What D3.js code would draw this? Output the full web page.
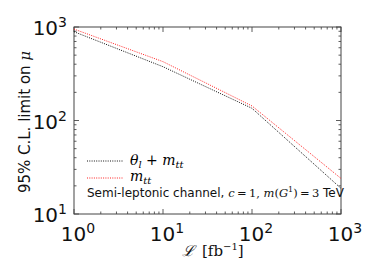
<!DOCTYPE html>
<html>
<head>
<meta charset="utf-8">
<script src="https://cdn.jsdelivr.net/npm/d3@7"></script>
<style>
  body { margin: 0; background: #fff; }
  svg text { font-family: "DejaVu Sans", sans-serif; }
  .math { font-family: "DejaVu Serif", "Liberation Serif", serif; font-style: italic; }
</style>
</head>
<body>
<div id="chart"></div>
<script>
// luminosity points (fb^-1) and limits on mu
var lumi = [1, 10, 100, 1000];
var limitCombined = [890, 376, 135, 18.8];   // theta_l + m_tt
var limitMtt = [950, 426, 143, 24];          // m_tt only
var decadeTicks = [1, 10, 100, 1000];
var yDecades = [10, 100, 1000];

var svgWidth = 374, svgHeight = 280;
var margin = {top: 27, right: 33, bottom: 66, left: 74};
var w = svgWidth - margin.left - margin.right;
var h = svgHeight - margin.top - margin.bottom;

var svg = d3.select("#chart").append("svg")
    .attr("width", svgWidth)
    .attr("height", svgHeight);

var g = svg.append("g")
    .attr("transform", "translate(" + margin.left + "," + margin.top + ")");

var x = d3.scaleLog().domain([1, 1000]).range([0, w]);
var y = d3.scaleLog().domain([10, 1000]).range([h, 0]);

// minor ticks
function minors(lo, hi) {
    var out = [];
    for (var d = lo; d < hi; d *= 10)
        for (var k = 2; k < 10; k++) out.push(d * k);
    return out;
}
var xMinor = minors(1, 1000), yMinor = minors(10, 1000);

var tickCol = "#333";
// x ticks, bottom and top, pointing inward
[[h, -1], [0, 1]].forEach(function(p) {
    g.selectAll(null).data(decadeTicks).enter().append("line")
        .attr("x1", d => x(d)).attr("x2", d => x(d))
        .attr("y1", p[0]).attr("y2", p[0] + p[1] * 5)
        .attr("stroke", tickCol).attr("stroke-width", 0.8);
    g.selectAll(null).data(xMinor).enter().append("line")
        .attr("x1", d => x(d)).attr("x2", d => x(d))
        .attr("y1", p[0]).attr("y2", p[0] + p[1] * 2.5)
        .attr("stroke", tickCol).attr("stroke-width", 0.8);
});
// y ticks, left and right
[[0, 1], [w, -1]].forEach(function(p) {
    g.selectAll(null).data(yDecades).enter().append("line")
        .attr("y1", d => y(d)).attr("y2", d => y(d))
        .attr("x1", p[0]).attr("x2", p[0] + p[1] * 5)
        .attr("stroke", tickCol).attr("stroke-width", 0.8);
    g.selectAll(null).data(yMinor).enter().append("line")
        .attr("y1", d => y(d)).attr("y2", d => y(d))
        .attr("x1", p[0]).attr("x2", p[0] + p[1] * 2.5)
        .attr("stroke", tickCol).attr("stroke-width", 0.8);
});

// frame
g.append("rect").attr("width", w).attr("height", h)
    .attr("fill", "none").attr("stroke", "#444").attr("stroke-width", 1);

// tick labels
function pow10(sel, d) {
    var e = Math.round(Math.log10(d));
    sel.append("tspan").text("10");
    sel.append("tspan").attr("dy", -8).attr("font-size", 14).text(e);
}
g.selectAll(null).data(decadeTicks).enter().append("text")
    .attr("x", d => x(d) + 4).attr("y", h + 27)
    .attr("text-anchor", "middle").attr("font-size", 20).attr("fill", "#111")
    .each(function(d) { pow10(d3.select(this), d); });
g.selectAll(null).data(yDecades).enter().append("text")
    .attr("x", -7).attr("y", d => y(d) + 8)
    .attr("text-anchor", "end").attr("font-size", 20).attr("fill", "#111")
    .each(function(d) { pow10(d3.select(this), d); });

// lines
var dots = "1,1.3";
var line = d3.line().x((d, i) => x(lumi[i])).y(d => y(d));
g.append("path").datum(limitMtt).attr("d", line)
    .attr("fill", "none").attr("stroke", "#ff2020").attr("stroke-width", 1)
    .attr("stroke-dasharray", dots);
g.append("path").datum(limitCombined).attr("d", line)
    .attr("fill", "none").attr("stroke", "#111").attr("stroke-width", 1)
    .attr("stroke-dasharray", dots);

// legend
var leg = g.append("g").attr("transform", "translate(13,134)");
leg.append("line").attr("x1", 0).attr("x2", 36).attr("y1", 0).attr("y2", 0)
    .attr("stroke", "#111").attr("stroke-width", 1).attr("stroke-dasharray", dots);
var t1 = leg.append("text").attr("x", 43).attr("y", 4).attr("font-size", 14).attr("class", "math");
t1.append("tspan").text("θ");
t1.append("tspan").attr("font-size", 10).attr("dy", 3).text("l");
t1.append("tspan").attr("dy", -3).attr("font-style", "normal").text(" + ");
t1.append("tspan").text("m");
t1.append("tspan").attr("font-size", 10).attr("dy", 3).text("tt");

leg.append("line").attr("x1", 0).attr("x2", 36).attr("y1", 17).attr("y2", 17)
    .attr("stroke", "#ff2020").attr("stroke-width", 1).attr("stroke-dasharray", dots);
var t2 = leg.append("text").attr("x", 43).attr("y", 20).attr("font-size", 14).attr("class", "math");
t2.append("tspan").text("m");
t2.append("tspan").attr("font-size", 10).attr("dy", 3).text("tt");

// annotation
var ann = g.append("text").attr("x", 13).attr("y", 170).attr("font-size", 12).attr("fill", "#111");
ann.append("tspan").text("Semi-leptonic channel, ");
ann.append("tspan").attr("class", "math").attr("font-size", 11.5).text("c");
ann.append("tspan").attr("font-family", "DejaVu Serif").attr("font-size", 11.5).text("\u2009=\u20091, ");
ann.append("tspan").attr("class", "math").attr("font-size", 11.5).text("m");
ann.append("tspan").attr("font-family", "DejaVu Serif").attr("font-size", 11.5).text("(");
ann.append("tspan").attr("class", "math").attr("font-size", 11.5).text("G");
ann.append("tspan").attr("font-family", "DejaVu Serif").attr("font-size", 8).attr("dy", -5).text("1");
ann.append("tspan").attr("font-family", "DejaVu Serif").attr("font-size", 11.5).attr("dy", 5).text(")\u2009=\u20093");
ann.append("tspan").text(" TeV");

// axis labels
var xl = svg.append("text").attr("x", 182).attr("y", 256)
    .attr("font-size", 15)
    .style("font-family", "'DejaVu Serif', serif").attr("fill", "#111");
xl.append("tspan").attr("font-style", "italic").text("\u2112");
xl.append("tspan").attr("x", 202).text("[fb");
xl.append("tspan").attr("font-size", 10).attr("dy", -6).text("\u22121");
xl.append("tspan").attr("dy", 6).text("]");

var yl = svg.append("text")
    .attr("transform", "translate(30,122) rotate(-90)")
    .attr("text-anchor", "middle").attr("font-size", 15).attr("fill", "#111");
yl.append("tspan").text("95% C.L. limit on ");
yl.append("tspan").attr("class", "math").text("\u03bc");
</script>
</body>
</html>
